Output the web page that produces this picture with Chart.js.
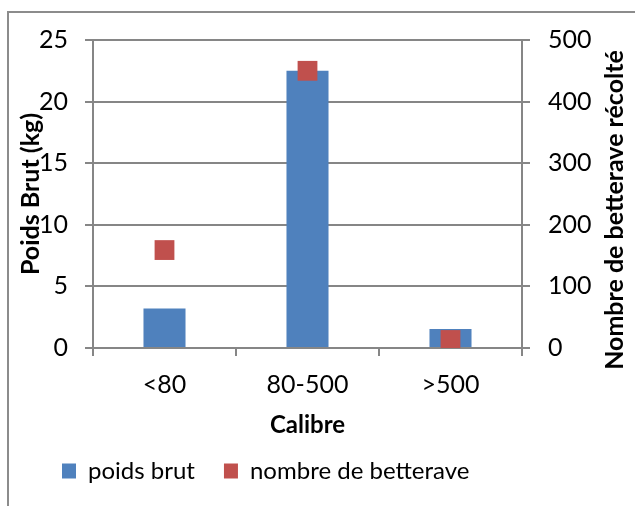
<!DOCTYPE html>
<html>
<head>
<meta charset="utf-8">
<script src="https://cdn.jsdelivr.net/npm/chart.js@4"></script>
<style>
  body { margin: 0; background: #fff; }
  #wrap { position: relative; width: 635px; height: 506px; overflow: hidden; }
  #frame { position: absolute; left: 7px; top: 11px; width: 640px; height: 520px; border: 2px solid #8c8c8c; box-sizing: border-box; }
  canvas { position: absolute; left: 0; top: 0; }
</style>
</head>
<body>
<div id="wrap">
  <div id="frame"></div>
  <canvas id="chart" width="635" height="506"></canvas>
</div>
<script>
const categories = ["<80", "80-500", ">500"];
const poidsBrut = [3.2, 22.5, 1.55];
const nombreBetterave = [159, 450, 13];
const leftTicks = [0, 5, 10, 15, 20, 25];
const rightTicks = [0, 100, 200, 300, 400, 500];
const rightTitle = "Nombre de betterave récolté";

const font = "Lato, 'Open Sans', sans-serif";
const gridColor = "#868686";

// place the legend where the original has it
const legendPos = {
    id: "legendPos",
    afterLayout(chart) {
        chart.legend.left = 33;
        chart.legend.top = 430;
    }
};

// right axis title reads bottom to top, like the left one
const rightAxisTitle = {
    id: "rightAxisTitle",
    afterDraw(chart) {
        const c = chart.ctx;
        const area = chart.chartArea;
        c.save();
        c.translate(615, (area.top + area.bottom) / 2 + 16);
        c.rotate(-Math.PI / 2);
        c.font = "bold 25px " + font;
        c.fillStyle = "#000";
        c.textAlign = "center";
        c.textBaseline = "middle";
        c.fillText(rightTitle, 0, 0);
        c.restore();
    }
};

document.addEventListener("DOMContentLoaded", function () {
    const ctx = document.getElementById("chart").getContext("2d");
    new Chart(ctx, {
        data: {
            labels: categories,
            datasets: [{
                type: "bar",
                label: "poids brut",
                data: poidsBrut,
                backgroundColor: "#4F81BD",
                yAxisID: "y",
                barPercentage: 0.6,
                categoryPercentage: 0.49,
                order: 2
            }, {
                type: "line",
                label: "nombre de betterave",
                data: nombreBetterave,
                showLine: false,
                pointStyle: "rect",
                pointRadius: 14,
                pointHoverRadius: 14,
                pointBorderWidth: 0,
                backgroundColor: "#C0504D",
                borderColor: "#C0504D",
                yAxisID: "y1",
                order: 1
            }]
        },
        plugins: [legendPos, rightAxisTitle],
        options: {
            responsive: false,
            animation: false,
            layout: { padding: { left: 8, right: 0, top: 40, bottom: 0 } },
            plugins: {
                tooltip: { enabled: false },
                legend: {
                    position: "bottom",
                    align: "start",
                    maxHeight: 58,
                    labels: {
                        font: { family: font, size: 24 },
                        color: "#000",
                        boxWidth: 14,
                        boxHeight: 15,
                        padding: 29,
                        generateLabels: function (chart) {
                            return chart.data.datasets.map((ds, i) => ({
                                text: ds.label,
                                fillStyle: ds.backgroundColor,
                                strokeStyle: ds.backgroundColor,
                                lineWidth: 0,
                                datasetIndex: i
                            }));
                        }
                    }
                }
            },
            scales: {
                x: {
                    afterFit: axis => { axis.height = 100; },
                    grid: { drawOnChartArea: false, drawTicks: true, tickLength: 8, color: gridColor, lineWidth: 2 },
                    border: { color: gridColor, width: 2 },
                    ticks: { font: { family: font, size: 25 }, color: "#000", padding: 14 },
                    title: { display: true, text: "Calibre", font: { family: font, size: 24, weight: "bold" }, color: "#000", padding: { top: 6, bottom: 8 } }
                },
                y: {
                    position: "left",
                    min: 0, max: 25,
                    afterFit: axis => { axis.width = 85; },
                    afterBuildTicks: axis => { axis.ticks = leftTicks.map(v => ({ value: v })); },
                    grid: { color: gridColor, lineWidth: 2, tickLength: 8 },
                    border: { color: gridColor, width: 2 },
                    ticks: { font: { family: font, size: 25 }, color: "#000", padding: 17 },
                    title: { display: true, text: "Poids Brut (kg)", font: { family: font, size: 25, weight: "bold" }, color: "#000", padding: 8 }
                },
                y1: {
                    position: "right",
                    min: 0, max: 500,
                    afterFit: axis => { axis.width = 113; },
                    afterBuildTicks: axis => { axis.ticks = rightTicks.map(v => ({ value: v })); },
                    grid: { drawOnChartArea: false, color: gridColor, lineWidth: 2, tickLength: 8 },
                    border: { color: gridColor, width: 2 },
                    ticks: { font: { family: font, size: 25 }, color: "#000", padding: 18 },
                    title: { display: false }
                }
            }
        }
    });
});
</script>
</body>
</html>
